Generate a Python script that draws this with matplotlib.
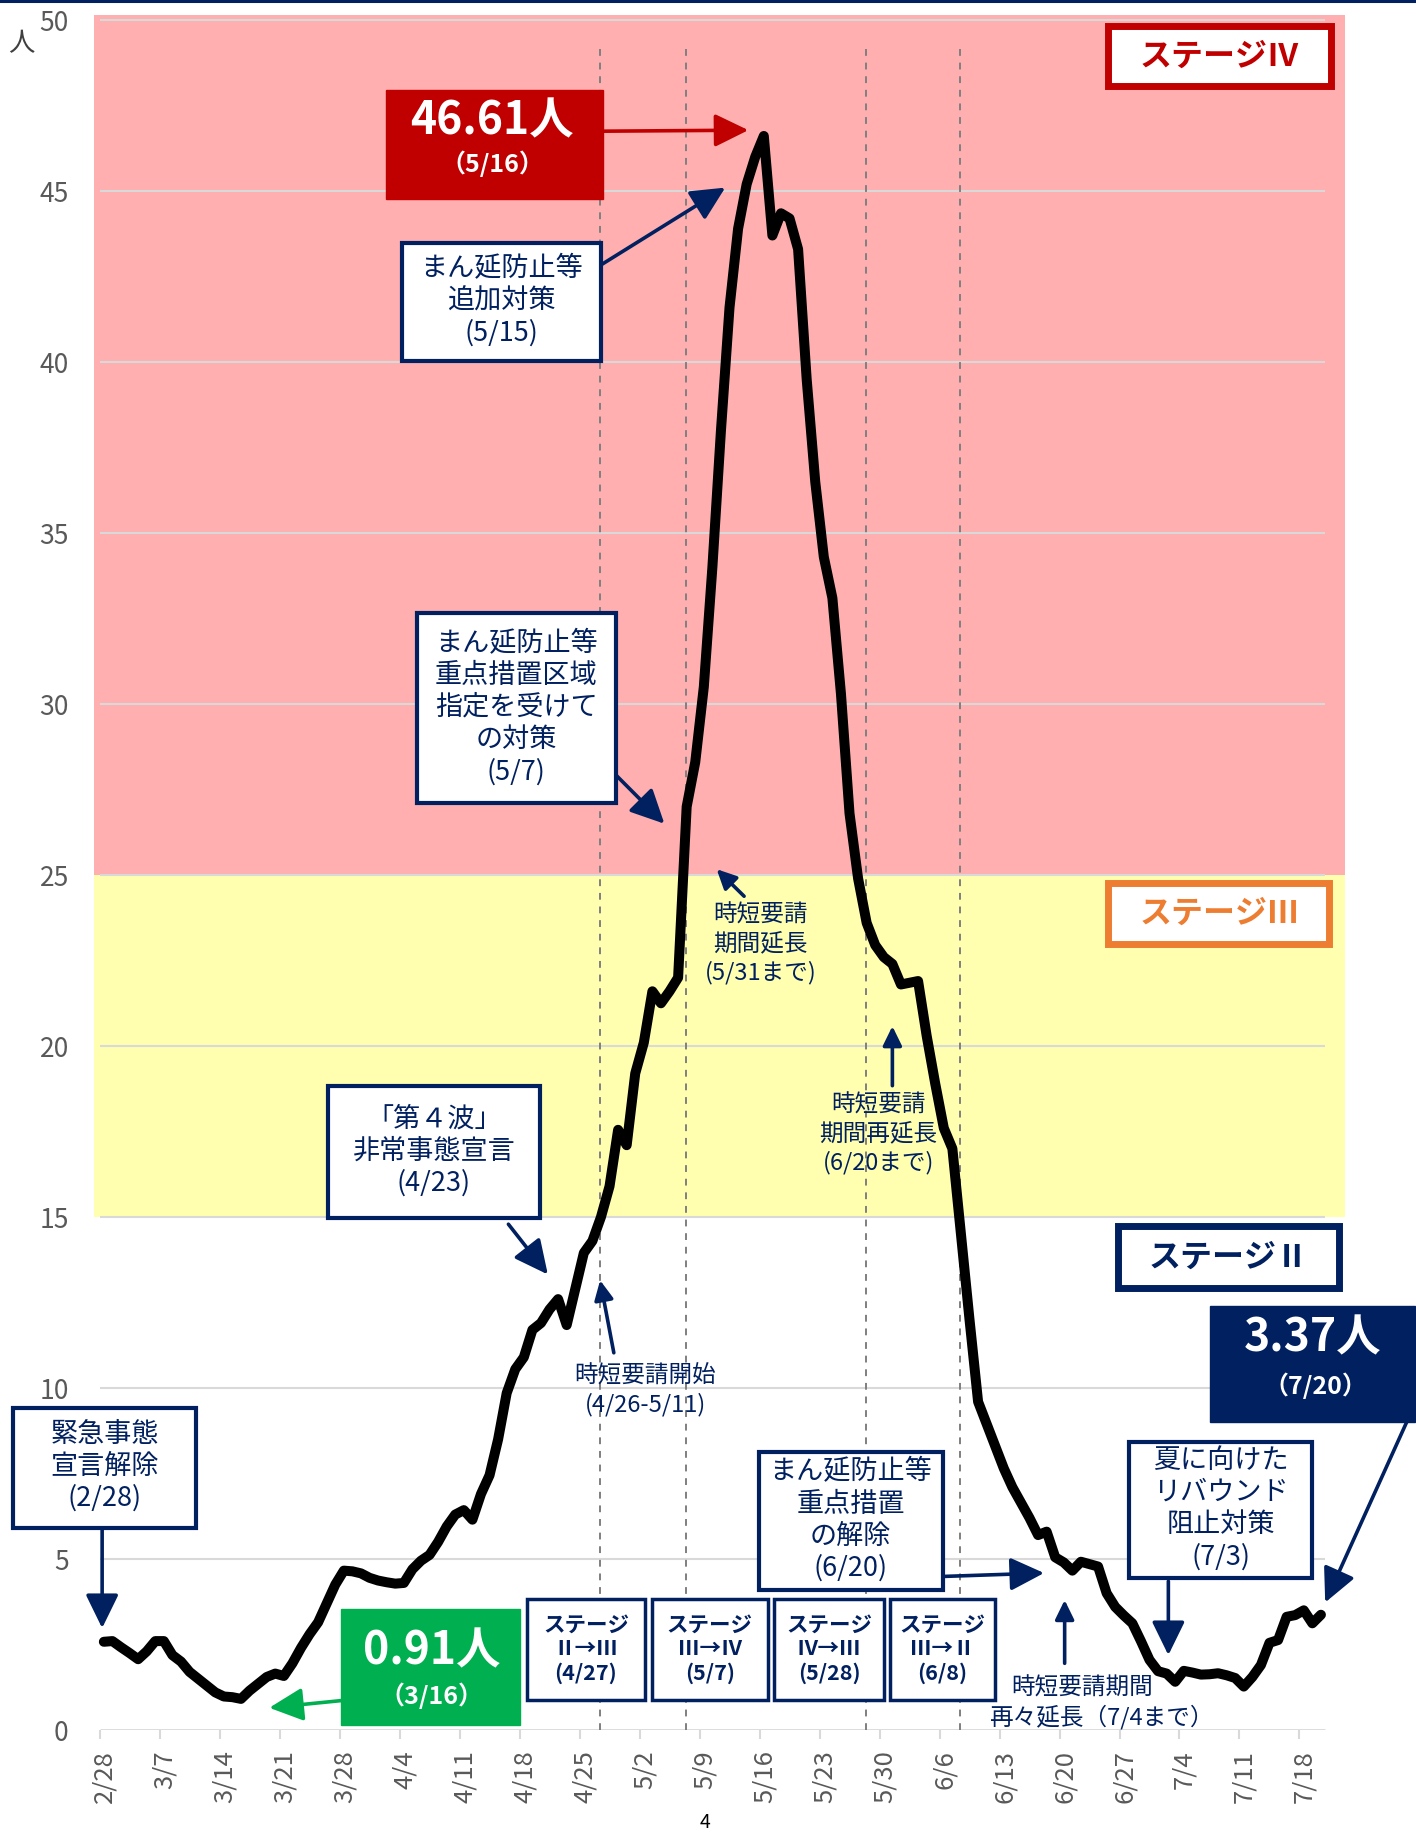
import matplotlib
matplotlib.use("Agg")
import matplotlib.pyplot as plt
from matplotlib.patches import Rectangle, FancyArrowPatch
from matplotlib.lines import Line2D
from matplotlib.transforms import ScaledTranslation
import numpy as np
import pandas as pd

plt.rcParams['font.family'] = ['Noto Sans CJK JP', 'DejaVu Sans']

NAVY   = "#002060"
RED    = "#c00000"
ORANGE = "#ed7d31"
GREEN  = "#00b050"
GRAY   = "#595959"
GRID   = "#d9d9d9"

# =========================================================
# Data
# =========================================================

dates = pd.date_range("2021-02-28", "2021-07-20", freq="D")
date_labels = [f"{d.month}/{d.day}" for d in dates]

# 7-day average of new cases per 100k
values = [
    2.58, 2.60, 2.42, 2.25, 2.07, 2.30, 2.60, 2.60, 2.19, 2.00,
    1.70, 1.50, 1.30, 1.10, 0.98, 0.96, 0.91, 1.15, 1.35, 1.55,
    1.65, 1.58, 1.95, 2.40, 2.80, 3.15, 3.70, 4.25, 4.66, 4.64,
    4.58, 4.45, 4.37, 4.32, 4.28, 4.30, 4.70, 4.95, 5.12, 5.50,
    5.95, 6.30, 6.43, 6.15, 6.90, 7.45, 8.50, 9.85, 10.55, 10.90,
    11.70, 11.90, 12.30, 12.60, 11.84, 12.90, 13.95, 14.30, 15.00, 15.90,
    17.55, 17.10, 19.20, 20.10, 21.60, 21.25, 21.60, 22.00, 27.00, 28.30,
    30.50, 34.00, 38.00, 41.60, 43.90, 45.20, 46.00, 46.61, 43.70, 44.35,
    44.20, 43.30, 39.50, 36.50, 34.30, 33.10, 30.30, 26.80, 24.90, 23.60,
    22.95, 22.60, 22.40, 21.80, 21.85, 21.90, 20.30, 18.90, 17.60, 17.00,
    14.50, 12.00, 9.60, 8.95, 8.30, 7.65, 7.10, 6.65, 6.20, 5.70,
    5.80, 5.05, 4.90, 4.66, 4.92, 4.85, 4.78, 4.00, 3.60, 3.35,
    3.12, 2.60, 2.05, 1.72, 1.65, 1.41, 1.73, 1.68, 1.62, 1.63,
    1.66, 1.60, 1.52, 1.27, 1.55, 1.90, 2.55, 2.63, 3.31, 3.36,
    3.50, 3.12, 3.37,
]
assert len(values) == len(dates)

# stage thresholds
stage3_min = 15
stage4_min = 25

y_ticks = list(range(0, 51, 5))
stage_change_dates = ["4/27", "5/7", "5/28", "6/8"]

# =========================================================
# Helpers
# =========================================================

def box(ax, x0, x1, y0, y1, face, edge, lw):
    ax.add_patch(Rectangle((x0, y0), x1 - x0, y1 - y0, facecolor=face,
                           edgecolor=edge, linewidth=lw, clip_on=False, zorder=6))

def arrow(ax, start, end, color=NAVY, lw=2.6, head=46):
    ax.add_patch(FancyArrowPatch(start, end,
                                 arrowstyle="-|>,head_length=0.45,head_width=0.22",
                                 mutation_scale=head, color=color, lw=lw,
                                 shrinkA=0, shrinkB=0, clip_on=False, zorder=7))

def label(ax, x, y, s, size=19.5, color=NAVY, weight="normal", ls=1.24):
    ax.text(x, y, s, ha="center", va="center", multialignment="center",
            fontsize=size, color=color, fontweight=weight, linespacing=ls,
            zorder=8, clip_on=False)

# =========================================================
# Figure
# =========================================================

fig = plt.figure(figsize=(14.16, 18.36), dpi=100)
ax = fig.add_axes([0.0662, 0.05773, 0.8836, 0.93415])
x_min, x_max = -0.68, 145.3
y_top = 50.15
ax.set_xlim(x_min, x_max)
ax.set_ylim(0, y_top)

n = len(values)
x = np.arange(n) + 0.5

# stage bands
ax.axhspan(stage4_min, y_top, color="#ffafaf", zorder=0, lw=0)
ax.axhspan(stage3_min, stage4_min, color="#ffffaf", zorder=0, lw=0)

# gridlines + base line
for v in y_ticks[1:]:
    ax.hlines(v, 0, n, color=GRID, lw=1.5, zorder=1)
ax.hlines(0, 0, n, color=GRID, lw=2.0, zorder=1)

# stage change markers
for d in stage_change_dates:
    xi = date_labels.index(d) + 0.4
    ax.vlines(xi, 0, 49.2, color="#7f7f7f", lw=1.4, linestyle=(0, (3.5, 3.5)), zorder=2)

ax.plot(x, values, color="black", lw=7.2, solid_joinstyle="round",
        solid_capstyle="round", zorder=4)

# axes styling
for s in ax.spines.values():
    s.set_visible(False)

ax.set_yticks(y_ticks)
ax.set_yticklabels([str(v) for v in y_ticks])
ax.tick_params(axis="y", length=0, pad=18, labelsize=19, labelcolor=GRAY)

tick_pos = list(range(0, n, 7))
ax.set_xticks(tick_pos)
ax.set_xticklabels([date_labels[i] for i in tick_pos], rotation=90, va="top", ha="center")
ax.tick_params(axis="x", length=6.5, width=1.5, color=GRID, pad=8,
               labelsize=18.5, labelcolor=GRAY)
shift = ScaledTranslation(0.05, 0, fig.dpi_scale_trans)
for t in ax.get_xticklabels():
    t.set_transform(t.get_transform() + shift)

fig.text(21 / 1416, 1 - 44 / 1836, "人", ha="center", va="center",
         fontsize=19, color="#404040")
fig.add_artist(Line2D([0, 1], [1 - 1.3 / 1836] * 2, transform=fig.transFigure,
                      color=NAVY, lw=2.2))
fig.text(705 / 1416, 1 - 1823 / 1836, "4", ha="center", va="center", fontsize=14)

# =========================================================
# Stage boxes
# =========================================================

box(ax, 117.7, 143.7, 48.08, 49.83, "white", RED, 5)
label(ax, 130.7, 48.94, "ステージⅣ", size=23, color=RED, weight="bold")
box(ax, 117.7, 143.5, 22.98, 24.76, "white", ORANGE, 5)
label(ax, 130.7, 23.87, "ステージⅢ", size=23, color=ORANGE, weight="bold")
box(ax, 118.8, 144.6, 12.91, 14.73, "white", NAVY, 5)
label(ax, 131.7, 13.82, "ステージⅡ", size=23, color=NAVY, weight="bold")

# =========================================================
# Value call-outs
# =========================================================

box(ax, 33.4, 58.7, 44.76, 47.95, RED, RED, 1)
label(ax, 45.8, 47.05, "46.61人", size=32, color="white", weight="bold")
label(ax, 45.8, 45.79, "（5/16）", size=18, color="white", weight="bold")
arrow(ax, (58.7, 46.75), (75.7, 46.78), color=RED)

box(ax, 28.2, 49.1, 0.14, 3.53, GREEN, GREEN, 1)
label(ax, 38.7, 2.29, "0.91人", size=32, color="white", weight="bold")
label(ax, 38.7, 0.99, "（3/16）", size=18, color="white", weight="bold")
arrow(ax, (28.2, 0.86), (19.8, 0.65), color=GREEN)

box(ax, 129.6, 153.5, 9.01, 12.4, NAVY, NAVY, 1)
label(ax, 141.5, 11.44, "3.37人", size=32, color="white", weight="bold")
label(ax, 141.9, 10.07, "（7/20）", size=18, color="white", weight="bold")
arrow(ax, (152.5, 9.0), (143.0, 3.73))

# =========================================================
# Policy annotations
# =========================================================

box(ax, 35.3, 58.5, 40.03, 43.49, "white", NAVY, 3)
label(ax, 46.9, 41.78, "まん延防止等\n追加対策\n(5/15)")
arrow(ax, (58.5, 42.84), (73.0, 45.1))

box(ax, 37.0, 60.2, 27.12, 32.67, "white", NAVY, 3)
label(ax, 48.6, 29.9, "まん延防止等\n重点措置区域\n指定を受けて\nの対策\n(5/7)")
arrow(ax, (60.3, 27.91), (65.9, 26.5))

label(ax, 77.1, 22.98, "時短要請\n期間延長\n(5/31まで)", size=17, ls=1.3)
arrow(ax, (75.2, 24.38), (72.0, 25.17), head=26)

label(ax, 90.9, 17.43, "時短要請\n期間再延長\n(6/20まで)", size=17, ls=1.3)
arrow(ax, (92.5, 18.84), (92.5, 20.58), head=26)

box(ax, 26.6, 51.4, 14.97, 18.84, "white", NAVY, 3)
label(ax, 39.0, 16.92, "「第４波」\n非常事態宣言\n(4/23)")
arrow(ax, (47.7, 14.79), (52.3, 13.32))

label(ax, 63.7, 9.93, "時短要請開始\n(4/26-5/11)", size=17, ls=1.3)
arrow(ax, (60.0, 11.03), (58.4, 13.15), head=26)

box(ax, -10.1, 11.3, 5.92, 9.42, "white", NAVY, 3)
label(ax, 0.6, 7.71, "緊急事態\n宣言解除\n(2/28)")
arrow(ax, (0.3, 5.9), (0.3, 2.98))

box(ax, 76.9, 98.4, 4.08, 8.12, "white", NAVY, 3)
label(ax, 87.6, 6.13, "まん延防止等\n重点措置\nの解除\n(6/20)")
arrow(ax, (98.4, 4.49), (110.2, 4.59))

label(ax, 114.6, 1.23, "時短要請期間", size=17)
label(ax, 116.9, 0.38, "再々延長（7/4まで）", size=17)
arrow(ax, (112.6, 1.95), (112.6, 3.8), head=26)

box(ax, 120.1, 141.5, 4.45, 8.42, "white", NAVY, 3)
label(ax, 130.8, 6.47, "夏に向けた\nリバウンド\n阻止対策\n(7/3)")
arrow(ax, (124.7, 4.35), (124.7, 2.19))

# stage transitions
transitions = [("Ⅱ→Ⅲ", "(4/27)", 49.9, 63.6),
               ("Ⅲ→Ⅳ", "(5/7)", 64.4, 78.0),
               ("Ⅳ→Ⅲ", "(5/28)", 78.7, 91.5),
               ("Ⅲ→Ⅱ", "(6/8)", 92.2, 104.5)]
for arrow_txt, date_txt, x0, x1 in transitions:
    box(ax, x0, x1, 0.89, 3.84, "white", NAVY, 2.5)
    label(ax, (x0 + x1) / 2, 2.37, f"ステージ\n{arrow_txt}\n{date_txt}",
          size=15.5, weight="bold", ls=1.16)

fig.savefig("out.png", dpi=100)
